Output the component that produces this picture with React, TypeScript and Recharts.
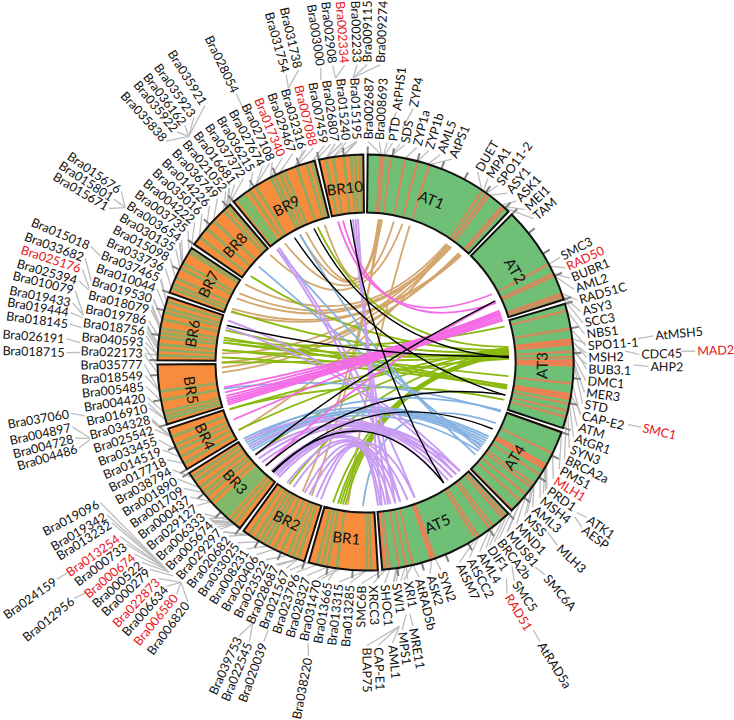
import { Pie, PieChart, Cell } from "recharts";

const CX = 365.5;
const CY = 362.5;
const RING_INNER = 150;
const RING_OUTER = 208;
const LINK_R = 143;
const PAD = 1.2;
const FONT = "Lato, sans-serif";

const chromNames = ["AT1", "AT2", "AT3", "AT4", "AT5", "BR1", "BR2", "BR3", "BR4", "BR5", "BR6", "BR7", "BR8", "BR9", "BR10"];
const chromLengths = [30.9, 20.0, 25.1, 18.6, 28.0, 13.9, 13.6, 15.0, 8.9, 12.1, 12.8, 9.95, 10.7, 18.2, 8.9];

// all gene positions below are degrees clockwise from the top of the circle
const atBands = [4.2, 5.0, 7, 11, 14.5, 17.9, 34.2, 35.5, 36.5, 41.1, 41.9, 61.8, 64.6, 65.4, 70.6, 71.3, 72.2, 75.5, 80.6, 87, 88.5, 95.8, 101.5, 103.5, 105.2, 109.6, 116, 122.8, 125.8, 127, 129.4, 131.8, 135, 137.6, 138.6, 142.1, 143.2, 147, 148, 160.5, 166.8, 168.7, 170.7, 173.3];
const atHotBands = [83.8, 84.8, 89.6, 90.6, 99, 100, 119.6, 120.6, 161.4, 174.6];
const brBands = [178.5, 179.7, 188, 190.5, 192, 193.5, 199, 200.5, 202, 204, 206, 208, 209.2, 210.5, 212, 214, 219, 220.5, 228, 230, 231.3, 233, 235, 236.5, 241, 243, 245, 246.6, 249, 254, 255, 256.2, 259.5, 262, 272, 273.5, 275, 277, 278.2, 279.5, 282, 284, 285.2, 287, 291, 292.2, 294, 297, 298.5, 302, 303, 307, 310, 313, 317, 318.5, 326, 328, 332.8, 334, 335.5, 337, 340.6, 343.5, 345, 349, 351, 354, 356, 357.2, 358.5];
const brHotBands = [222, 223, 224, 225, 226, 322, 323, 324];

const tanLinks = [[5.2, 343.5], [5.8, 335.5], [6.6, 332.8], [11.3, 326], [14.9, 318.5], [17.9, 187], [5.5, 202], [6.2, 206], [34.2, 303], [35.7, 298.8], [36.6, 296.5], [41.2, 292], [41.8, 290.5], [40.4, 266], [34.8, 273.6], [35.2, 241.8], [41, 270], [36.2, 268]];
const magentaLinks = [[61.6, 349], [64.9, 224], [69.5, 258], [70.3, 256.5], [71, 255.5], [71.7, 254.6], [72.4, 253.8], [73, 253], [68.8, 246.6], [65.5, 351], [70, 260]];
const greenLinks = [[75.5, 279], [83.7, 340.6], [85, 307], [86, 291], [86.5, 278], [87, 275], [88, 270], [88.5, 251], [84, 242], [84.5, 230], [85, 212], [85.5, 193], [86, 191], [86.5, 190], [87, 188], [85.2, 189], [95.5, 278], [99, 275], [99.5, 283], [100, 272], [100.5, 280], [105, 251]];
const blueLinks = [[110, 259.5], [109.5, 237], [130, 333], [127, 322], [126, 312], [123, 233], [124, 236], [125, 234], [128, 232], [121, 238], [122, 235], [115, 181]];
const purpleLinks = [[173.5, 357], [171, 356], [168, 355], [166, 322], [160, 323], [139, 287], [141, 284], [143, 237], [145, 234], [147, 230], [139, 228], [141, 226], [168, 213], [170, 210], [172, 205], [174, 200], [175, 198], [160, 203], [163, 220], [166, 218], [139, 221], [141, 219], [143, 217]];
const blackLinks = [[87.5, 285], [103.2, 330.4], [88, 339], [147, 354], [64.6, 230], [103, 224], [117.6, 220], [147, 220.5]];

const redNames = ["Bra002334", "Bra007088", "Bra017340", "Bra025176", "Bra013254", "Bra000674", "Bra022873", "Bra006580", "RAD50", "MAD2", "SMC1", "MLH1", "RAD51"];

// labels next to the ring: evenly spaced runs, each AT name paired with its gene position
const runA = [["PTD", 5.3], ["SDS", 7.1], ["ZYP1a", 11], ["ZYP1b", 14.5], ["AML5", 17.5], ["AtPS1", 18]];
const runB = [["DUET", 34], ["MPA1", 34.5], ["SPO11-2", 35.5], ["ASY1", 36.5], ["ASK1", 40.8], ["MEI1", 41.2], ["TAM", 41.8]];
const runC = [["SMC3", 61.8], ["RAD50", 62.5], ["BUBR1", 64.6], ["AML2", 65.4], ["RAD51C", 70.6], ["ASY3", 71.3], ["SCC3", 72.2], ["NBS1", 75.5], ["SPO11-1", 80.6], ["MSH2", 84], ["BUB3.1", 85.5], ["DMC1", 88.5], ["MER3", 89.5], ["STD", 90], ["CAP-E2", 95.8], ["ATM", 99.5], ["AtGR1", 101.5], ["SYN3", 103.5], ["BRCA2a", 105], ["PMS1", 109.4], ["MLH1", 116], ["PRD1", 119.5], ["MSH4", 122.8], ["AML3", 125.8], ["MSS", 127], ["MND1", 129.4], ["MUS81", 131.8], ["BRCA2b", 135], ["DIF1", 138.6], ["AML4", 143.4], ["AtSCC2", 147], ["AtSM7", 148]];
const runD = [["SYN2", 160.5], ["ASK2", 161.5], ["AtRAD5b", 166.8], ["XRI1", 168.7], ["SWI1", 170.7], ["SHOC1", 173.3], ["XRCC3", 174.5], ["SMC6B", 175]];
const brInnerNames = ["Bra013285", "Bra013315", "Bra013665", "Bra031470", "Bra028327", "Bra023796", "Bra021567", "Bra028687", "Bra023522", "Bra020406", "Bra008231", "Bra033025", "Bra020682", "Bra029297", "Bra005674", "Bra006333", "Bra029127", "Bra000437", "Bra001709", "Bra001890", "Bra038794", "Bra017718", "Bra014519", "Bra033455", "Bra025542", "Bra034328", "Bra016910", "Bra004420", "Bra005485", "Bra018549", "Bra035777", "Bra022173", "Bra040593", "Bra018756", "Bra019786", "Bra018079", "Bra019530", "Bra010044", "Bra037465", "Bra033736", "Bra015098", "Bra030135", "Bra003654", "Bra003735", "Bra004222", "Bra035016", "Bra014226", "Bra036749", "Bra021052", "Bra016681", "Bra037372", "Bra036215", "Bra027674", "Bra027108", "Bra017340", "Bra029467", "Bra032316", "Bra007088", "Bra007459", "Bra026807", "Bra015240", "Bra015195", "Bra002687", "Bra008693"];

// labels further out: name, label angle, label radius, leader end angle, leader end radius, gene (0 = no line to the ring)
const outerLabels: [string, number, number, number, number, number][] = [
  ["AtPHS1", 7, 254, 5.6, 233, 5], ["ZYP4", 10.6, 260, 9, 237, 7],
  ["AtMSH5", 84.7, 291, 85, 274, 83.5], ["CDC45", 88.3, 276, 87.5, 260, 84.5], ["MAD2", 88, 332, 88, 316, 0], ["AHP2", 90.8, 285, 90.5, 268, 87],
  ["SMC1", 103.2, 285, 103.3, 270, 99],
  ["ATK1", 125, 272, 125.4, 259, 120], ["AESP", 127.3, 274, 126.4, 260, 120.5], ["MLH3", 133.6, 267, 133, 249, 126],
  ["SMC6A", 139.8, 280, 140.3, 266, 132], ["SMC5", 145.7, 266, 144.3, 251, 137.2], ["RAD51", 148.5, 273, 146.9, 258, 142], ["AtRAD5a", 148, 331, 147.9, 316, 0],
  ["MRE11", 169.8, 270, 170, 255, 167], ["MPS1", 172.2, 272, 170.8, 255, 169], ["AML1", 174.5, 284, 172.7, 266, 171], ["CAP-E1", 177.4, 285, 172.7, 266, 171.2], ["BLAP75", 179.7, 285, 172.7, 266, 171.5],
  ["Bra038220", 191, 301, 191.6, 286, 187], ["Bra020039", 200, 299, 200, 285, 196], ["Bra022545", 202.6, 304, 203.4, 284, 199], ["Bra039753", 204.8, 303, 203.4, 284, 199],
  ["Bra006820", 216.6, 300, 220, 287, 214], ["Bra006580", 219.2, 301, 220, 287, 214], ["Bra006634", 221.6, 301, 220, 287, 214], ["Bra022873", 223.7, 301, 220, 287, 214],
  ["Bra000279", 226.2, 301, 222, 287, 219], ["Bra000522", 228.2, 302, 223, 287, 219], ["Bra000674", 230.2, 302, 223.5, 287, 220], ["Bra000733", 232.7, 302, 224, 287, 220],
  ["Bra013254", 234.7, 303, 224.3, 287, 220], ["Bra013232", 237.7, 302, 224.5, 287, 220], ["Bra019342", 239.5, 302, 225, 287, 222], ["Bra019096", 242.2, 302, 225, 287, 222],
  ["Bra012956", 231, 377, 230.5, 361, 0], ["Bra024159", 234.9, 379, 234.8, 364, 0],
  ["Bra004486", 253.4, 301, 254.4, 286, 249], ["Bra004728", 255.4, 302, 254.6, 286, 249], ["Bra004897", 257.6, 302, 254.7, 286, 249], ["Bra037060", 260.2, 301, 259.3, 286, 254],
  ["Bra018715", 271.9, 301, 272, 286, 267], ["Bra026191", 274.5, 302, 274, 286, 269], ["Bra018145", 277.4, 300, 277, 286, 272], ["Bra019444", 279.6, 301, 279, 286, 274],
  ["Bra019433", 281.5, 301, 279.5, 286, 275], ["Bra010079", 283.9, 301, 279.5, 286, 275], ["Bra025394", 285.9, 300, 284.7, 286, 279], ["Bra025176", 288.2, 300, 285, 286, 280],
  ["Bra033682", 290.4, 301, 286.5, 286, 282], ["Bra015018", 292.9, 300, 291.9, 286, 287],
  ["Bra015671", 301, 301, 302.8, 286, 298], ["Bra015801", 303, 302, 302.8, 286, 298], ["Bra015676", 305, 300, 302.8, 286, 298],
  ["Bra035838", 318, 300, 322, 287, 318], ["Bra035922", 320.7, 300, 322, 287, 318], ["Bra036162", 322.7, 300, 322, 287, 318], ["Bra035923", 325, 301, 322, 287, 318], ["Bra035921", 328, 305, 322, 287, 318],
  ["Bra028054", 334.3, 300, 334.3, 283, 328], ["Bra031754", 344.6, 301, 344.3, 285, 340], ["Bra031738", 347.1, 302, 344.3, 285, 340],
  ["Bra003000", 351.4, 300, 351, 286, 346], ["Bra002908", 353.7, 301, 354, 286, 349], ["Bra002334", 356, 300, 354, 286, 349],
  ["Bra002233", 358.4, 300, 357.5, 285, 351], ["Bra009115", 360.3, 300, 357.5, 285, 354], ["Bra009274", 362.8, 300, 357.5, 285, 354],
];

const at = (angle: number, r: number) => {
  const a = (angle * Math.PI) / 180;
  return { x: CX + r * Math.sin(a), y: CY - r * Math.cos(a) };
};

function nearestBand(angle: number) {
  const wrapped = angle % 360;
  return brBands.reduce((best, b) => (Math.abs(b - wrapped) < Math.abs(best - wrapped) ? b : best), brBands[0]);
}

// spacer + band slices for the stripe pie
function buildBandSlices() {
  const rows = [
    ...atBands.map((pos) => ({ pos, width: 0.7, color: "#d8875c" })),
    ...atHotBands.map((pos) => ({ pos, width: 0.95, color: "#f47c52" })),
    ...brBands.map((pos) => ({ pos, width: 0.85, color: "#8fab63" })),
    ...brHotBands.map((pos) => ({ pos, width: 1.05, color: "#7dbb6c" })),
  ].sort((a, b) => a.pos - b.pos);
  const slices: { value: number; color: string }[] = [];
  let cur = 0;
  rows.forEach((r) => {
    const start = Math.max(cur, r.pos - r.width / 2);
    if (start > cur) slices.push({ value: start - cur, color: "none" });
    slices.push({ value: r.width, color: r.color });
    cur = start + r.width;
  });
  slices.push({ value: 360 - cur, color: "none" });
  return slices;
}

function linkPath(a: number, b: number) {
  const p1 = at(a, LINK_R);
  const p2 = at(b, LINK_R);
  const cx = CX + 0.2 * ((p1.x + p2.x) / 2 - CX);
  const cy = CY + 0.2 * ((p1.y + p2.y) / 2 - CY);
  return `M${p1.x},${p1.y}Q${cx},${cy} ${p2.x},${p2.y}`;
}

function Links({ rows, color, width }: { rows: number[][]; color: string; width: number }) {
  return (
    <g fill="none" stroke={color} strokeWidth={width} strokeLinecap="round">
      {rows.map(([a, b], i) => (
        <path key={i} d={linkPath(a, b)} />
      ))}
    </g>
  );
}

function GeneLabel({ name, angle, r }: { name: string; angle: number; r: number }) {
  const p = at(angle, r);
  const norm = ((angle % 360) + 360) % 360;
  const right = norm < 180;
  const rot = right ? norm - 90 : norm + 90;
  return (
    <text
      x={p.x}
      y={p.y}
      fontSize={12.5}
      fontFamily={FONT}
      fill={redNames.includes(name) ? "#e8141c" : "#111"}
      textAnchor={right ? "start" : "end"}
      dominantBaseline="central"
      transform={`rotate(${rot} ${p.x} ${p.y})`}
    >
      {name}
    </text>
  );
}

function Leader({ a1, r1, a2, r2, color = "#bdbdbd", width = 1.3 }: { a1: number; r1: number; a2: number; r2: number; color?: string; width?: number }) {
  const p = at(a1, r1);
  const q = at(a2, r2);
  return <line x1={p.x} y1={p.y} x2={q.x} y2={q.y} stroke={color} strokeWidth={width} />;
}

function renderChromLabel(props: any) {
  const mid = 90 - props.midAngle;
  const angle = ((mid % 360) + 360) % 360;
  const p = at(angle, 176);
  let rot = angle;
  if (angle >= 90 && angle < 270) rot = angle - 180;
  if (angle >= 270) rot = angle - 360;
  return (
    <text
      key={props.name}
      x={p.x}
      y={p.y}
      fontSize={15}
      fontFamily={FONT}
      fill="#111"
      textAnchor="middle"
      dominantBaseline="central"
      transform={`rotate(${rot} ${p.x} ${p.y})`}
    >
      {props.name}
    </text>
  );
}

export default function App() {
  const chromData = chromNames.map((name, i) => ({ name, value: chromLengths[i] }));
  const bandSlices = buildBandSlices();
  const total = chromLengths.reduce((s, v) => s + v, 0);
  const deg = (360 - chromLengths.length * PAD) / total;

  const ticks: number[] = [];
  let start = 0.6;
  chromLengths.forEach((len) => {
    for (let t = 0; t <= len; t += 5) ticks.push(start + t * deg);
    start += len * deg + PAD;
  });

  const runs: { rows: (string | number)[][]; from: number; step: number }[] = [
    { rows: runA, from: 7, step: 3.2 },
    { rows: runB, from: 30.5, step: 3.15 },
    { rows: runC, from: 61.6, step: 3.01 },
    { rows: runD, from: 160, step: 3 },
  ];
  const inner: { name: string; angle: number; gene: number }[] = [];
  runs.forEach(({ rows, from, step }) =>
    rows.forEach(([name, gene], i) => inner.push({ name: name as string, angle: from + i * step, gene: gene as number }))
  );
  brInnerNames.forEach((name, i) => {
    const angle = 184 + i * 2.85;
    inner.push({ name, angle, gene: i > 61 ? 4.4 : nearestBand(angle - 4.5) });
  });

  return (
    <div style={{ position: "absolute", left: 0, top: 0, width: 734, height: 720, background: "#fff" }}>
      <PieChart width={734} height={720} margin={{ top: 0, right: 0, bottom: 0, left: 0 }}>
        <g>
          {inner.map((l) => (
            <Leader key={l.name} a1={l.gene} r1={RING_OUTER} a2={l.angle} r2={221} />
          ))}
          {outerLabels.map(([name, la, lr, fa, fr, gene]) => (
            <g key={name}>
              <Leader a1={la} r1={lr - 2} a2={fa} r2={fr} />
              {gene > 0 && <Leader a1={gene} r1={RING_OUTER} a2={fa} r2={221} />}
            </g>
          ))}
          {ticks.map((t, i) => (
            <Leader key={i} a1={t} r1={RING_OUTER} a2={t} r2={216} color="#808080" width={2} />
          ))}
        </g>
        <Pie
          data={chromData}
          dataKey="value"
          cx={CX}
          cy={CY}
          innerRadius={RING_INNER}
          outerRadius={RING_OUTER}
          startAngle={89.4}
          endAngle={-270.6}
          paddingAngle={PAD}
          stroke="none"
          isAnimationActive={false}
        >
          {chromData.map((d, i) => (
            <Cell key={d.name} fill={i < 5 ? "#6fc076" : "#f68c3c"} />
          ))}
        </Pie>
        <Pie
          data={bandSlices}
          dataKey="value"
          cx={CX}
          cy={CY}
          innerRadius={RING_INNER}
          outerRadius={RING_OUTER}
          startAngle={90}
          endAngle={-270}
          stroke="none"
          isAnimationActive={false}
        >
          {bandSlices.map((s, i) => (
            <Cell key={i} fill={s.color} />
          ))}
        </Pie>
        <Pie
          data={chromData}
          dataKey="value"
          cx={CX}
          cy={CY}
          innerRadius={RING_INNER}
          outerRadius={RING_OUTER}
          startAngle={89.4}
          endAngle={-270.6}
          paddingAngle={PAD}
          fill="none"
          stroke="#111"
          strokeWidth={2}
          label={renderChromLabel}
          labelLine={false}
          isAnimationActive={false}
        />
        <Links rows={tanLinks} color="#d3a76e" width={1.8} />
        <Links rows={greenLinks} color="#8ab90f" width={1.8} />
        <Links rows={blueLinks} color="#86b2e2" width={1.8} />
        <Links rows={purpleLinks} color="#c99cf2" width={2} />
        <Links rows={magentaLinks} color="#f46be6" width={1.8} />
        <Links rows={blackLinks} color="#000" width={1.4} />
        <g>
          {inner.map((l) => (
            <GeneLabel key={l.name} name={l.name} angle={l.angle} r={223} />
          ))}
          {outerLabels.map(([name, la, lr]) => (
            <GeneLabel key={name} name={name} angle={la} r={lr} />
          ))}
        </g>
      </PieChart>
    </div>
  );
}
